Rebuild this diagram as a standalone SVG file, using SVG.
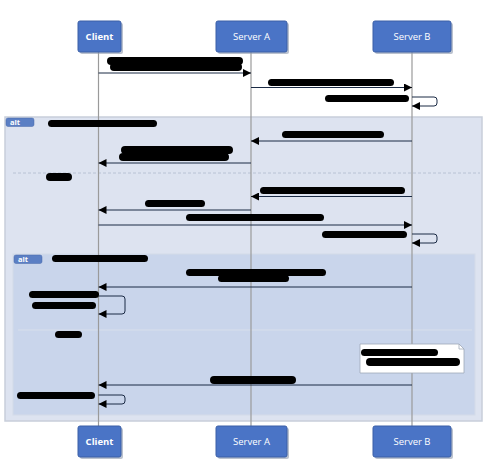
<svg xmlns="http://www.w3.org/2000/svg" width="486" height="460" viewBox="0 0 486 460">
<defs>
<style>
.box{fill:#4a74c6;stroke:#3a5fa6;stroke-width:1}
.shadow{fill:#8d99ae;opacity:0.6}
.lbl{font-family:"Open Sans","DejaVu Sans",sans-serif;font-size:9.5px;fill:#ffffff;text-anchor:middle}
.b{font-weight:bold}
.life{stroke:#9a9a9a;stroke-width:1.2;fill:none}
.msg{stroke:#1a2a44;stroke-width:1;fill:none}
.red{fill:#000000}
.sep{stroke:#b8c2d4;stroke-width:1;stroke-dasharray:3,2;fill:none}
.tag{fill:#5b7fc4;stroke:#4a6aaa;stroke-width:0.5}
.tagt{font-family:"Open Sans","DejaVu Sans",sans-serif;font-size:7.5px;font-weight:bold;fill:#ffffff}
</style>
<marker id="ah" viewBox="0 0 10 10" refX="10" refY="5" markerWidth="8" markerHeight="8" markerUnits="userSpaceOnUse" orient="auto">
<path d="M0,0 L10,5 L0,10 z" fill="#000"/>
</marker>
</defs>
<rect width="486" height="460" fill="#ffffff"/>

<g id="frames">
<rect x="5" y="117" width="477" height="304" fill="#dde3f0" stroke="#c8ceda" stroke-width="1.5"/>
<rect x="13" y="254" width="462" height="161" fill="#c9d5eb" stroke="#d4dbe8" stroke-width="1"/>
<line class="sep" x1="13" y1="173" x2="480" y2="173"/>
<line x1="18" y1="330" x2="472" y2="330" stroke="#d8dfeb" stroke-width="1"/>
<rect class="tag" x="6" y="118" width="28" height="8.5" rx="2"/>
<text class="tagt" x="10" y="125">alt</text>
<rect class="tag" x="14" y="255" width="28" height="8.5" rx="2"/>
<text class="tagt" x="18" y="262">alt</text>
</g>

<g id="lifelines">
<line class="life" x1="98.5" y1="52" x2="98.5" y2="426"/>
<line class="life" x1="251" y1="52" x2="251" y2="426"/>
<line class="life" x1="412" y1="52" x2="412" y2="426"/>
</g>

<g id="connectors">
<line class="msg" x1="98.5" y1="73" x2="251" y2="73" marker-end="url(#ah)"/>
<line class="msg" x1="251" y1="87.5" x2="412" y2="87.5" marker-end="url(#ah)"/>
<path class="msg" d="M412,97 H434 Q437,97 437,100 V103 Q437,106 434,106 H412" marker-end="url(#ah)"/>
<line class="msg" x1="412" y1="141" x2="251" y2="141" marker-end="url(#ah)"/>
<line class="msg" x1="251" y1="163" x2="98.5" y2="163" marker-end="url(#ah)"/>
<line class="msg" x1="412" y1="196.5" x2="251" y2="196.5" marker-end="url(#ah)"/>
<line class="msg" x1="251" y1="210" x2="98.5" y2="210" marker-end="url(#ah)"/>
<line class="msg" x1="98.5" y1="225" x2="412" y2="225" marker-end="url(#ah)"/>
<path class="msg" d="M412,234 H434 Q437,234 437,237 V240 Q437,243 434,243 H412" marker-end="url(#ah)"/>
<line class="msg" x1="412" y1="287" x2="98.5" y2="287" marker-end="url(#ah)"/>
<path class="msg" d="M98.5,296 H122 Q125,296 125,299 V311 Q125,314 122,314 H98.5" marker-end="url(#ah)"/>
<line class="msg" x1="412" y1="385" x2="98.5" y2="385" marker-end="url(#ah)"/>
<path class="msg" d="M98.5,395 H122 Q125,395 125,398 V401 Q125,404 122,404 H98.5" marker-end="url(#ah)"/>
</g>

<g id="note">
<path d="M360,344 H459 L464,349 V373 H360 Z" fill="#ffffff" stroke="#a0a8b8" stroke-width="0.8"/>
<path d="M459,344 V349 H464" fill="none" stroke="#a0a8b8" stroke-width="0.8"/>
</g>

<g id="redactions">
<rect class="red" x="107" y="57" width="136" height="8" rx="4"/>
<rect class="red" x="110" y="63" width="132" height="8" rx="4"/>
<rect class="red" x="268" y="79" width="126" height="7" rx="3.5"/>
<rect class="red" x="325" y="95" width="84" height="7" rx="3.5"/>
<rect class="red" x="48" y="120" width="109" height="7" rx="3.5"/>
<rect class="red" x="282" y="131" width="102" height="7" rx="3.5"/>
<rect class="red" x="121" y="146" width="112" height="8" rx="4"/>
<rect class="red" x="119" y="153" width="110" height="8" rx="4"/>
<rect class="red" x="46" y="173" width="26" height="8" rx="4"/>
<rect class="red" x="260" y="187" width="145" height="7" rx="3.5"/>
<rect class="red" x="145" y="200" width="60" height="7" rx="3.5"/>
<rect class="red" x="186" y="214" width="138" height="7" rx="3.5"/>
<rect class="red" x="322" y="231" width="85" height="7" rx="3.5"/>
<rect class="red" x="52" y="255" width="96" height="7" rx="3.5"/>
<rect class="red" x="186" y="269" width="140" height="7" rx="3.5"/>
<rect class="red" x="218" y="275" width="71" height="7" rx="3.5"/>
<rect class="red" x="29" y="291" width="70" height="7" rx="3.5"/>
<rect class="red" x="32" y="302" width="64" height="7" rx="3.5"/>
<rect class="red" x="55" y="331" width="27" height="7" rx="3.5"/>
<rect class="red" x="361" y="349" width="77" height="7" rx="3.5"/>
<rect class="red" x="366" y="358" width="94" height="8" rx="4"/>
<rect class="red" x="210" y="376" width="86" height="8" rx="4"/>
<rect class="red" x="17" y="392" width="78" height="7" rx="3.5"/>
</g>

<g id="client-top"><rect class="shadow" x="80" y="23" width="43" height="31" rx="2"/><rect class="box" x="78" y="21" width="43" height="31" rx="2"/><text class="lbl b" x="99.5" y="39.5">Client</text></g>
<g id="servera-top"><rect class="shadow" x="218" y="23" width="71" height="31" rx="2"/><rect class="box" x="216" y="21" width="71" height="31" rx="2"/><text class="lbl" x="251.5" y="39.5">Server A</text></g>
<g id="serverb-top"><rect class="shadow" x="375" y="23" width="78" height="31" rx="2"/><rect class="box" x="373" y="21" width="78" height="31" rx="2"/><text class="lbl" x="412" y="39.5">Server B</text></g>
<g id="client-bottom"><rect class="shadow" x="80" y="428" width="43" height="31" rx="2"/><rect class="box" x="78" y="426" width="43" height="31" rx="2"/><text class="lbl b" x="99.5" y="444.5">Client</text></g>
<g id="servera-bottom"><rect class="shadow" x="218" y="428" width="71" height="31" rx="2"/><rect class="box" x="216" y="426" width="71" height="31" rx="2"/><text class="lbl" x="251.5" y="444.5">Server A</text></g>
<g id="serverb-bottom"><rect class="shadow" x="375" y="428" width="78" height="31" rx="2"/><rect class="box" x="373" y="426" width="78" height="31" rx="2"/><text class="lbl" x="412" y="444.5">Server B</text></g>
</svg>
